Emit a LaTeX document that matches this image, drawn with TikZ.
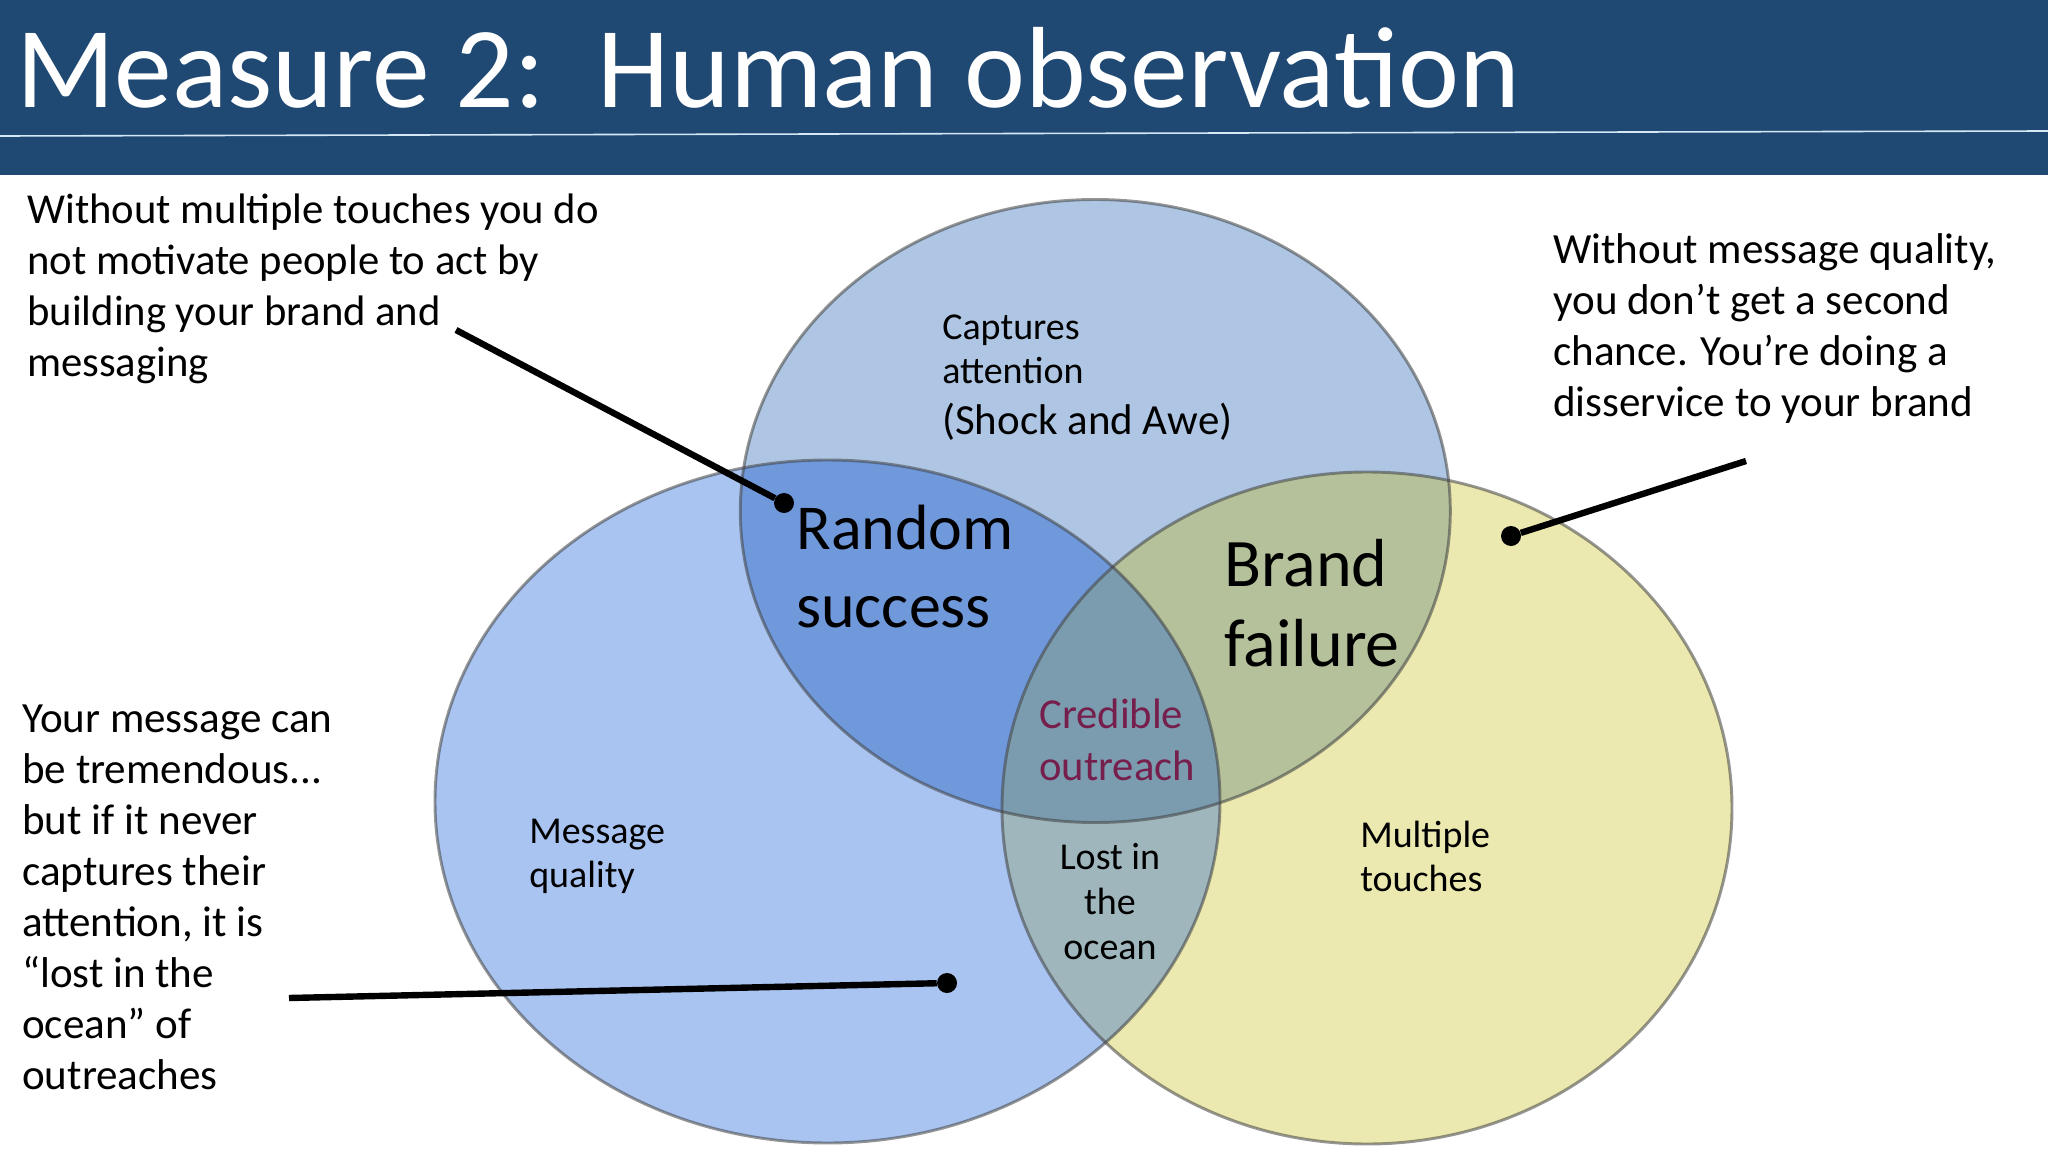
\documentclass[tikz,border=0pt]{standalone}
\usepackage{fontspec}
\setmainfont{Carlito}
\definecolor{bannerBlue}{HTML}{1F4873}
\definecolor{ruleBlue}{HTML}{D5E8F5}
\definecolor{topFill}{HTML}{AEC6E3}
\definecolor{leftFill}{HTML}{A9C4F1}
\definecolor{rightFill}{HTML}{EBE9AF}
\definecolor{topLeftFill}{HTML}{7099DC}
\definecolor{topRightFill}{HTML}{B5C19A}
\definecolor{leftRightFill}{HTML}{9EB6BC}
\definecolor{centerFill}{HTML}{7A9CAE}
\definecolor{plum}{HTML}{761F4C}
\tikzset{
  topShape/.style={insert path={(1095.3,511) ellipse (355 and 311.5)}},
  leftShape/.style={insert path={(827.5,801.5) ellipse (392.5 and 341.5)}},
  rightShape/.style={insert path={(1367,808) ellipse (365 and 336)}},
  vennEdge/.style={draw=black!75,draw opacity=0.55,line width=2.2pt},
  bodyText/.style={anchor=base west,inner sep=0pt,align=left,font=\fontsize{32.3}{38.25}\selectfont},
  smallText/.style={anchor=base west,inner sep=0pt,align=left,font=\fontsize{28.5}{33}\selectfont},
  bigText/.style={anchor=base west,inner sep=0pt,align=left,font=\fontsize{48}{58}\selectfont},
  brandText/.style={anchor=base west,inner sep=0pt,align=left,font=\fontsize{51}{60}\selectfont},
  pointerDot/.style={circle,fill=black,inner sep=0pt,minimum size=15pt},
  pointerLine/.style={line width=4.8pt,black},
}
\begin{document}
\begin{tikzpicture}[x=0.75pt,y=0.75pt,yscale=-1,xscale=1]
\useasboundingbox (0,0) rectangle (2048,1152);

%Banner
\fill[bannerBlue] (0,0) rectangle (2048,175);
\draw[ruleBlue,line width=1.2pt] (0,136) -- (2048,131);

%Venn fills
\fill[rightFill,rightShape];
\fill[leftFill,leftShape];
\fill[topFill,topShape];
\begin{scope}
  \clip[topShape];
  \fill[topLeftFill,leftShape];
  \fill[topRightFill,rightShape];
\end{scope}
\begin{scope}
  \clip[leftShape];
  \fill[leftRightFill,rightShape];
  \clip[rightShape];
  \fill[centerFill,topShape];
\end{scope}

%Venn outlines
\draw[vennEdge,rightShape];
\draw[vennEdge,leftShape];
\draw[vennEdge,topShape];

% Title
\draw (16,108) node [anchor=base west,inner sep=0pt,text=white,font=\fontsize{86.6}{90}\selectfont] (titleText) {Measure 2:\ \ Human observation};

% Side notes
\draw (27,376) node [bodyText,font=\fontsize{32}{38.25}\selectfont] (noteTouches) {Without multiple touches you do\\not motivate people to act by\\building your brand and\\messaging};
\draw (1553,416) node [bodyText] (noteQuality) {Without message quality,\\you don’t get a second\\chance. You’re doing a\\disservice to your brand};
\draw (22,1089) node [bodyText] (noteOcean) {Your message can\\be tremendous...\\but if it never\\captures their\\attention, it is\\“lost in the\\ocean” of\\outreaches};

% Venn labels
\draw (942,434) node [smallText] (labelAttention) {Captures\\attention\\[5pt]{\fontsize{32.2}{38}\selectfont (Shock and Awe)}};
\draw (529,887) node [smallText] (labelMessage) {Message\\quality};
\draw (1360,891) node [smallText] (labelTouches) {Multiple\\touches};
\draw (796,627) node [bigText] (labelRandom) {Random\\success};
\draw (1224,666) node [brandText] (labelBrand) {Brand\\failure};
\draw (1039,780) node [anchor=base west,inner sep=0pt,align=left,text=plum,font=\fontsize{32}{39}\selectfont] (labelCredible) {Credible\\outreach};
\draw (1110,959) node [anchor=base,inner sep=0pt,align=center,font=\fontsize{28.5}{33.5}\selectfont] (labelOcean) {Lost in\\the\\ocean};

% Pointers
\coordinate (startTouches) at (456,330);
\node[pointerDot] (dotTouches) at (784,503) {};
\draw[pointerLine] (startTouches) -- (dotTouches);
\coordinate (startQuality) at (1746,461);
\node[pointerDot] (dotQuality) at (1511,536) {};
\draw[pointerLine] (startQuality) -- (dotQuality);
\coordinate (startOcean) at (289,998);
\node[pointerDot] (dotOcean) at (947,983) {};
\draw[pointerLine] (startOcean) -- (dotOcean);

\end{tikzpicture}
\end{document}
